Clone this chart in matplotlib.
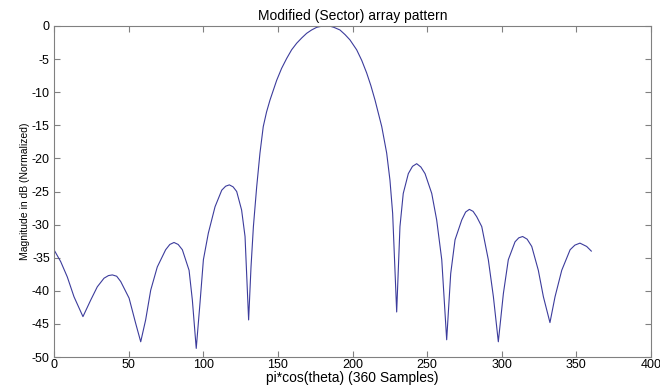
import matplotlib
matplotlib.use("Agg")
import matplotlib.pyplot as plt
from matplotlib import font_manager

# Values
samples = [0, 4.5, 8.9, 13.4, 19.4, 24.6, 29.0, 33.5, 36.5, 39.1, 42.0, 44.7, 50.3, 54.7, 58.1,
           61.4, 64.8, 69.2, 74.8, 77.6, 80.4, 83.2, 86.0, 90.5, 92.7, 95.3, 97.8, 100.1,
           103.4, 107.9, 112.4, 115.0, 117.5, 120.0, 122.4, 125.7, 128.0, 130.4, 132.0,
           133.6, 135.8, 138.0, 140.2, 142.4, 144.7, 149.2, 152.5, 155.9, 159.2, 162.6,
           166.0, 169.3, 172.6, 176.0, 179.4, 182.7, 185.2, 187.5, 191.6, 195.0, 198.3,
           202.8, 206.2, 209.5, 212.3, 215.1, 219.6, 222.9, 225.1, 226.9, 229.6, 231.8,
           234.0, 237.4, 240.2, 243.0, 245.8, 248.6, 253.1, 256.4, 259.8, 263.1, 265.8,
           268.7, 273.2, 275.8, 278.3, 280.8, 283.2, 286.6, 291.0, 294.4, 297.7, 301.1,
           304.4, 308.9, 311.4, 314.0, 317.0, 320.1, 324.5, 327.9, 332.3, 335.7, 340.2,
           345.8, 349.0, 352.4, 356.9, 360.0]
magnitude_db = [-33.8, -35.6, -37.9, -40.9, -43.9, -41.4, -39.4, -38.1, -37.7, -37.6, -37.8,
                -38.6, -41.1, -44.9, -47.7, -44.4, -39.9, -36.4, -33.8, -33.0, -32.7, -33.0,
                -33.8, -36.9, -41.4, -48.7, -41.9, -35.3, -31.3, -27.3, -24.8, -24.2, -24.0,
                -24.3, -25.0, -27.8, -31.8, -44.4, -36.4, -30.3, -24.3, -19.2, -15.2, -13.0,
                -11.2, -8.2, -6.4, -4.9, -3.6, -2.6, -1.8, -1.1, -0.6, -0.2, -0.03, 0.0,
                -0.05, -0.2, -0.6, -1.3, -2.1, -3.6, -5.2, -7.1, -9.0, -11.2, -15.2, -19.2,
                -23.3, -28.3, -43.2, -30.3, -25.3, -22.3, -21.2, -20.8, -21.3, -22.3, -25.3,
                -29.3, -35.3, -47.4, -37.4, -32.3, -29.3, -28.1, -27.7, -28.0, -28.8, -30.3,
                -35.3, -40.9, -47.7, -40.4, -35.3, -32.6, -32.0, -31.8, -32.2, -33.3, -36.9,
                -40.9, -44.8, -40.9, -36.9, -33.8, -33.1, -32.8, -33.3, -34.0]

x_ticks = [0, 50, 100, 150, 200, 250, 300, 350, 400]
y_ticks = [0, -5, -10, -15, -20, -25, -30, -35, -40, -45, -50]

plt.rcParams['font.family'] = ['Liberation Sans', 'DejaVu Sans']
plt.rcParams['axes.unicode_minus'] = False

names = {f.name for f in font_manager.fontManager.ttflist}
if 'Liberation Sans Narrow' in names:
    ylab_font = dict(family=['Liberation Sans Narrow', 'DejaVu Sans'], fontsize=9)
else:
    ylab_font = dict(fontsize=7.5)

fig = plt.figure(figsize=(6.6, 3.85), dpi=100)
ax = fig.add_axes([54/660, 28/385, (651-54)/660, (357-26)/385])
ax.plot(samples, magnitude_db, color='#3c3c9c', linewidth=0.8)

ax.set_xlim(0, 400)
ax.set_ylim(-50, 0)
ax.set_xticks(x_ticks)
ax.set_yticks(y_ticks)
ax.tick_params(direction='in', length=4, width=0.8, colors='#808080',
               labelcolor='black', labelsize=9, top=True, right=True)
ax.tick_params(axis='x', pad=1.5)
ax.tick_params(axis='y', pad=3)
for s in ax.spines.values():
    s.set_color('#808080')
    s.set_linewidth(0.8)

ax.set_title('Modified (Sector) array pattern', fontsize=10, pad=4.5)
ax.set_xlabel('pi*cos(theta) (360 Samples)', fontsize=10, labelpad=0)
ax.set_ylabel('Magnitude in dB (Normalized)', labelpad=1, **ylab_font)

fig.savefig('out.png', dpi=100)
